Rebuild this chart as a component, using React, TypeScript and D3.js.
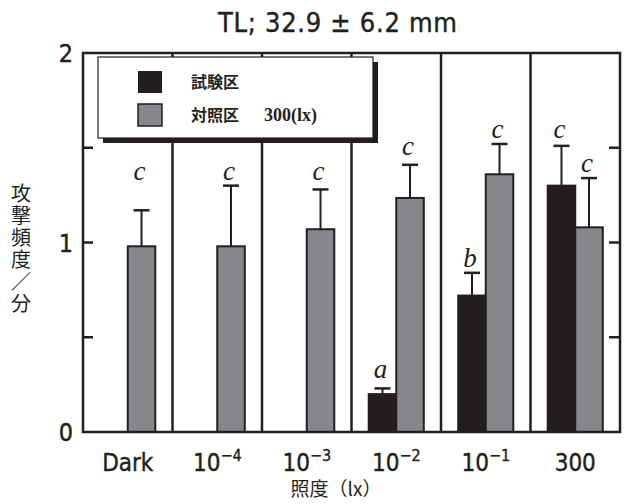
import React, { useRef, useEffect } from "react";
import * as d3 from "d3";

// x categories (illuminance)
const categories = ["Dark", "1e-4", "1e-3", "1e-2", "1e-1", "300"];
const tickBase = ["Dark", "10", "10", "10", "10", "300"];
const tickExp = ["", "−4", "−3", "−2", "−1", ""];

// 試験区 (test) and 対照区 (control, 300 lx)
const testMeans = [null, null, null, 0.2, 0.72, 1.3];
const testErrors = [null, null, null, 0.03, 0.12, 0.21];
const controlMeans = [0.98, 0.98, 1.07, 1.235, 1.36, 1.08];
const controlErrors = [0.19, 0.32, 0.21, 0.175, 0.16, 0.26];

// significance letters and their baseline height (data units)
const testLetters = ["", "", "", "a", "b", "c"];
const testLetterAt = [null, null, null, 0.285, 0.87, 1.55];
const controlLetters = ["c", "c", "c", "c", "c", "c"];
const controlLetterAt = [1.33, 1.33, 1.33, 1.46, 1.55, 1.37];

const yTicks = [0, 1, 2];
const yMinorTicks = [0.5, 1, 1.5];

const BLACK = "#231f20";
const GRAY = "#86878a";
const SANS = "'DejaVu Sans Condensed', 'DejaVu Sans', sans-serif";
const CJK = "'Noto Sans CJK JP', sans-serif";
const SERIF = "'Liberation Serif', 'DejaVu Serif', serif";

const App: React.FC = () => {
  const svgRef = useRef<SVGSVGElement | null>(null);

  useEffect(() => {
    document.body.style.margin = "0";
    if (!svgRef.current) return;
    const svg = d3.select(svgRef.current);
    svg.selectAll("*").remove();

    const left = 83;
    const right = 620;
    const top = 53;
    const bottom = 432;

    const x = d3.scaleBand<string>().domain(categories).range([left, right]).padding(0);
    const x1 = d3
      .scaleBand<string>()
      .domain(["test", "control"])
      .range([0, x.bandwidth()])
      .paddingInner(0)
      .paddingOuter(0.625);
    const y = d3.scaleLinear().domain([0, 2]).range([bottom, top]);

    svg.append("rect").attr("width", 625).attr("height", 504).attr("fill", "#fff");

    // title
    svg
      .append("text")
      .attr("x", 218)
      .attr("y", 32)
      .attr("textLength", 239)
      .attr("lengthAdjust", "spacing")
      .style("font-family", SANS)
      .style("font-size", "27px")
      .style("fill", BLACK)
      .style("stroke", BLACK)
      .style("stroke-width", 0.4)
      .text("TL; 32.9 ± 6.2 mm");

    // bars
    const series = [
      { key: "test", means: testMeans, errs: testErrors, color: BLACK, letters: testLetters, at: testLetterAt },
      { key: "control", means: controlMeans, errs: controlErrors, color: GRAY, letters: controlLetters, at: controlLetterAt },
    ];

    series.forEach((s) => {
      const g = svg.append("g");
      categories.forEach((c, i) => {
        const v = s.means[i];
        if (v == null) return;
        const bx = (x(c) || 0) + (x1(s.key) || 0);
        const bw = x1.bandwidth();
        const cx = bx + bw / 2;
        g.append("rect")
          .attr("x", bx)
          .attr("y", y(v))
          .attr("width", bw)
          .attr("height", y(0) - y(v))
          .attr("fill", s.color)
          .attr("stroke", BLACK)
          .attr("stroke-width", 2);
        const e = s.errs[i] || 0;
        g.append("line")
          .attr("x1", cx)
          .attr("x2", cx)
          .attr("y1", y(v))
          .attr("y2", y(v + e))
          .attr("stroke", BLACK)
          .attr("stroke-width", 2);
        g.append("line")
          .attr("x1", cx - 8)
          .attr("x2", cx + 8)
          .attr("y1", y(v + e))
          .attr("y2", y(v + e))
          .attr("stroke", BLACK)
          .attr("stroke-width", 2.5);
      });
      categories.forEach((c, i) => {
        const at = s.at[i];
        if (!s.letters[i] || at == null) return;
        const cx = (x(c) || 0) + (x1(s.key) || 0) + x1.bandwidth() / 2;
        svg
          .append("text")
          .attr("x", cx - 2)
          .attr("y", y(at))
          .attr("text-anchor", "middle")
          .style("font-family", SERIF)
          .style("font-style", "italic")
          .style("font-size", "27px")
          .style("fill", BLACK)
          .text(s.letters[i]);
      });
    });

    // group separators
    svg
      .selectAll("line.sep")
      .data(categories.slice(1))
      .enter()
      .append("line")
      .attr("class", "sep")
      .attr("x1", (d) => x(d) || 0)
      .attr("x2", (d) => x(d) || 0)
      .attr("y1", top)
      .attr("y2", bottom)
      .attr("stroke", BLACK)
      .attr("stroke-width", 2.5);

    // inward ticks on both sides
    yMinorTicks.forEach((t) => {
      svg.append("line").attr("x1", left).attr("x2", left + 10).attr("y1", y(t)).attr("y2", y(t))
        .attr("stroke", BLACK).attr("stroke-width", 2.5);
      svg.append("line").attr("x1", right - 11).attr("x2", right).attr("y1", y(t)).attr("y2", y(t))
        .attr("stroke", BLACK).attr("stroke-width", 2.5);
    });

    // frame
    svg
      .append("rect")
      .attr("x", left)
      .attr("y", top)
      .attr("width", right - left)
      .attr("height", bottom - top)
      .attr("fill", "none")
      .attr("stroke", BLACK)
      .attr("stroke-width", 2.5);

    // y tick labels
    svg
      .selectAll("text.ytick")
      .data(yTicks)
      .enter()
      .append("text")
      .attr("class", "ytick")
      .attr("x", 66)
      .attr("y", (d) => y(d) + 9)
      .attr("text-anchor", "middle")
      .style("font-family", SANS)
      .style("font-size", "25px")
      .style("fill", BLACK)
      .style("stroke", BLACK)
      .style("stroke-width", 0.4)
      .text((d) => d);

    // x tick labels
    categories.forEach((c, i) => {
      const t = svg
        .append("text")
        .attr("x", (x(c) || 0) + x.bandwidth() / 2)
        .attr("y", 471)
        .attr("text-anchor", "middle")
        .style("font-family", SANS)
        .style("font-size", "24px")
        .style("fill", BLACK)
        .style("stroke", BLACK)
        .style("stroke-width", 0.4);
      t.append("tspan").text(tickBase[i]);
      if (tickExp[i]) {
        t.append("tspan")
          .attr("dy", -10)
          .style("font-size", "16px")
          .text(tickExp[i]);
      }
    });

    // axis titles
    svg
      .append("text")
      .attr("x", 336)
      .attr("y", 496)
      .attr("text-anchor", "middle")
      .style("font-family", CJK)
      .style("font-size", "19px")
      .style("fill", BLACK)
      .text("照度（lx）");

    svg
      .append("text")
      .attr("x", 21)
      .attr("y", 183)
      .style("font-family", CJK)
      .style("font-size", "20px")
      .style("writing-mode", "vertical-rl")
      .style("text-orientation", "upright")
      .style("letter-spacing", "2px")
      .style("fill", BLACK)
      .text("攻撃頻度／分");

    // legend
    const lg = svg.append("g");
    lg.append("rect").attr("x", 103).attr("y", 62).attr("width", 275).attr("height", 81).attr("fill", BLACK);
    lg.append("rect")
      .attr("x", 98)
      .attr("y", 57)
      .attr("width", 275)
      .attr("height", 81)
      .attr("fill", "#fff")
      .attr("stroke", BLACK)
      .attr("stroke-width", 1.2);
    lg.append("rect").attr("x", 138).attr("y", 71).attr("width", 24).attr("height", 22).attr("fill", BLACK);
    lg.append("rect")
      .attr("x", 138)
      .attr("y", 104)
      .attr("width", 24)
      .attr("height", 22)
      .attr("fill", GRAY)
      .attr("stroke", BLACK)
      .attr("stroke-width", 1.5);
    lg.append("text")
      .attr("x", 191)
      .attr("y", 88)
      .style("font-family", CJK)
      .style("font-weight", "bold")
      .style("font-size", "16px")
      .style("fill", BLACK)
      .text("試験区");
    const t2 = lg
      .append("text")
      .attr("x", 191)
      .attr("y", 121)
      .style("font-family", CJK)
      .style("font-weight", "bold")
      .style("font-size", "16px")
      .style("fill", BLACK);
    t2.append("tspan").text("対照区");
    t2.append("tspan")
      .attr("x", 264)
      .style("font-family", SERIF)
      .style("font-size", "18px")
      .text("300(lx)");
  }, []);

  return <svg ref={svgRef} width={625} height={504} style={{ display: "block" }} />;
};

export default App;
